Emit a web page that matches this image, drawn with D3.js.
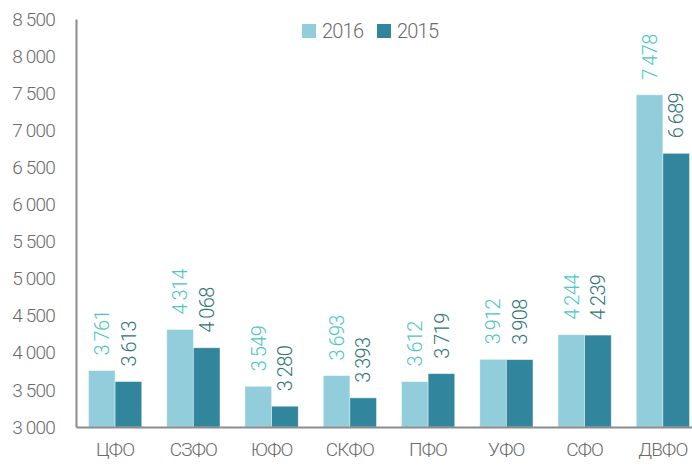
<!DOCTYPE html>
<html>
<head>
<meta charset="utf-8">
<script src="https://cdn.jsdelivr.net/npm/d3@7"></script>
<style>
  body { margin: 0; background: #fff; }
  svg text { font-family: Roboto, "Noto Sans", sans-serif; font-weight: 300; }
</style>
</head>
<body>
<div id="chart"></div>
<script>
// Regions and values
const regions = ['ЦФО', 'СЗФО', 'ЮФО', 'СКФО', 'ПФО', 'УФО', 'СФО', 'ДВФО'];
const years = ['2016', '2015'];
const values2016 = [3761, 4314, 3549, 3693, 3612, 3912, 4244, 7478];
const values2015 = [3613, 4068, 3280, 3393, 3719, 3908, 4239, 6689];
const yTicks = [3000, 3500, 4000, 4500, 5000, 5500, 6000, 6500, 7000, 7500, 8000, 8500];

const barColors = { '2016': '#92cddc', '2015': '#31859c' };
const labelColors = { '2016': '#4bc6c4', '2015': '#2f7478' };

const width = 692, height = 466;
const margin = { top: 19, right: -10, bottom: 39, left: 76 };

const fmt = v => d3.format(',')(v).replace(/,/g, '\u2009');
const fmtTick = v => d3.format(',')(v).replace(/,/g, ' ');

const rows = regions.map((r, i) => ({ region: r, '2016': values2016[i], '2015': values2015[i] }));

const svg = d3.select('#chart').append('svg')
    .attr('width', width)
    .attr('height', height);

const x = d3.scaleBand()
    .domain(regions)
    .range([margin.left, width - margin.right])
    .paddingInner(0.32)
    .paddingOuter(0.16);

const xInner = d3.scaleBand()
    .domain(years)
    .range([0, x.bandwidth()]);

const y = d3.scaleLinear()
    .domain([3000, 8500])
    .range([height - margin.bottom, margin.top]);

// Bars
const groups = svg.append('g').selectAll('g')
    .data(rows)
    .join('g')
    .attr('transform', d => `translate(${x(d.region)},0)`);

groups.selectAll('rect')
    .data(d => years.map(k => ({ key: k, value: d[k] })))
    .join('rect')
    .attr('x', d => xInner(d.key))
    .attr('y', d => y(d.value))
    .attr('width', xInner.bandwidth())
    .attr('height', d => y(3000) - y(d.value))
    .attr('fill', d => barColors[d.key])
    .attr('stroke', '#ffffff')
    .attr('stroke-opacity', 0.5)
    .attr('stroke-width', 0.8);

// Value labels, rotated
groups.selectAll('text')
    .data(d => years.map(k => ({ key: k, value: d[k] })))
    .join('text')
    .attr('transform', d => `translate(${xInner(d.key) + xInner.bandwidth() / 2},${y(d.value) - 15}) rotate(-90)`)
    .attr('dy', '0.36em')
    .attr('text-anchor', 'start')
    .style('font-size', '20px')
    .style('letter-spacing', '-0.6px')
    .style('fill', d => labelColors[d.key])
    .text(d => fmt(d.value));

// Y axis
const yAxis = svg.append('g')
    .attr('transform', `translate(${margin.left},0)`)
    .call(d3.axisLeft(y).tickValues(yTicks).tickFormat(fmtTick).tickSize(0).tickPadding(12));
yAxis.select('.domain').attr('stroke', '#8c8c8c').attr('stroke-width', 2);
yAxis.selectAll('text')
    .style('font-size', '19px')
    .style('letter-spacing', '-0.8px')
    .style('fill', '#6b6b6b')
    .attr('text-anchor', 'end');
yAxis.selectAll('.tick text').attr('x', -21);

// X axis
const xAxis = svg.append('g')
    .attr('transform', `translate(0,${y(3000)})`)
    .call(d3.axisBottom(x).tickSize(0).tickPadding(16));
xAxis.select('.domain').attr('stroke', '#8c8c8c').attr('stroke-width', 2);
xAxis.selectAll('text')
    .style('font-size', '19px')
    .style('letter-spacing', '-0.8px')
    .style('fill', '#6b6b6b');

// Legend
const legend = svg.append('g').attr('transform', 'translate(302,24)');
const legendX = d3.scaleOrdinal().domain(years).range([0, 75]);
const items = legend.selectAll('g')
    .data(years)
    .join('g')
    .attr('transform', d => `translate(${legendX(d)},0)`);
items.append('rect')
    .attr('width', 14)
    .attr('height', 14)
    .attr('fill', d => barColors[d]);
items.append('text')
    .attr('x', 20)
    .attr('y', 7)
    .attr('dy', '0.36em')
    .style('font-size', '20px')
    .style('letter-spacing', '-0.8px')
    .style('fill', '#6b6b6b')
    .text(d => d);
</script>
</body>
</html>
